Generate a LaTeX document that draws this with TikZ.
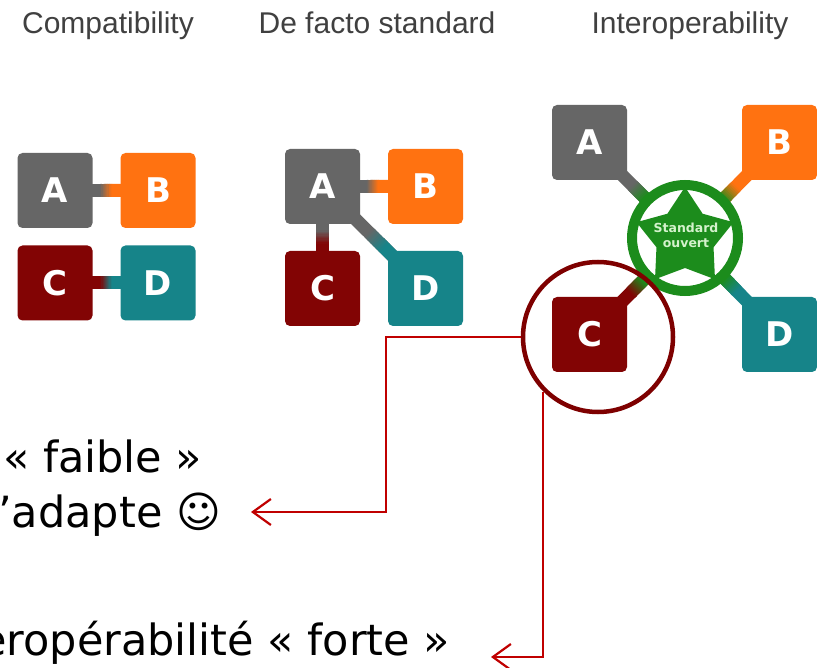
\documentclass[tikz,border=0pt]{standalone}
\usepackage{fontspec}
\setmainfont{DejaVu Sans}
\newfontfamily\titlefont{Liberation Sans}
\newfontfamily\boxfont{DejaVu Sans}
\usetikzlibrary{calc,arrows.meta,shapes.geometric}
\definecolor{cgray}{HTML}{666666}
\definecolor{corange}{HTML}{FF7211}
\definecolor{cdred}{HTML}{820404}
\definecolor{cteal}{HTML}{168489}
\definecolor{cgreen}{HTML}{1C8C1C}
\definecolor{cltgreen}{HTML}{D4F2CC}
\definecolor{titlegray}{HTML}{404040}
\definecolor{arrowred}{HTML}{C00000}
\definecolor{bigred}{HTML}{7E0000}
\pgfdeclarelayer{bg}
\pgfsetlayers{bg,main}
% gradient connector: #1 from node, #2 to node, #3 colour 1, #4 colour 2, #5 t start, #6 t end
\newcommand\gconn[6]{%
  \draw[conn,draw=#3] (#1.center) -- (#2.center);
  \foreach \gi in {0,...,9}{%
    \pgfmathsetmacro\gta{#5+(#6-#5)*\gi/10}%
    \pgfmathsetmacro\gtb{#5+(#6-#5)*(\gi+1.4)/10}%
    \pgfmathtruncatemacro\gpc{100-(\gi+0.5)*10}%
    \draw[conn,draw=#3!\gpc!#4] ($(#1.center)!\gta!(#2.center)$) -- ($(#1.center)!\gtb!(#2.center)$);
  }%
  \draw[conn,draw=#4] ($(#1.center)!#6!(#2.center)$) -- (#2.center);
}
\begin{document}
\begin{tikzpicture}[x=1pt,y=-1pt,
  box/.style={rounded corners=5pt, minimum size=75pt, inner sep=0pt, text=white,
    font=\boxfont\fontsize{34}{34}\bfseries},
  conn/.style={line width=13pt, line cap=butt},
  ttl/.style={anchor=base, text=titlegray, inner sep=0pt,
    font=\titlefont\fontsize{30}{30}\selectfont},
  txt/.style={anchor=base west, inner sep=0pt, text=black,
    font=\fontsize{43}{43}\selectfont},
  redline/.style={draw=arrowred, line width=2.2pt, -{Straight Barb[length=18pt,width=26pt]}},
]
\useasboundingbox (0,0) rectangle (817,668);
\begin{pgfonlayer}{bg}
  \fill[white] (0,0) rectangle (817,668);
\end{pgfonlayer}
\clip (0,0) rectangle (817,668);

% titles
\node[ttl] (t1) at (108,34) {Compatibility};
\node[ttl] (t2) at (377,34) {De facto standard};
\node[ttl] (t3) at (690,34) {Interoperability};

% Compatibility
\node[box, fill=cgray]   (A1) at (55,190.5) {A};
\node[box, fill=corange] (B1) at (158,190.5) {B};
\node[box, fill=cdred]   (C1) at (55,283) {C};
\node[box, fill=cteal]   (D1) at (158,283) {D};

% De facto standard
\node[box, fill=cgray]   (A2) at (322.5,186.5) {A};
\node[box, fill=corange] (B2) at (425.5,186.5) {B};
\node[box, fill=cdred]   (C2) at (322.5,288.5) {C};
\node[box, fill=cteal]   (D2) at (425.5,288.5) {D};

% Interoperability
\node[box, fill=cgray]   (A3) at (589.5,142.5) {A};
\node[box, fill=corange] (B3) at (779.5,142.5) {B};
\node[box, fill=cdred]   (C3) at (589.5,334.5) {C};
\node[box, fill=cteal]   (D3) at (779.5,334.5) {D};
\node[circle, draw=cgreen, line width=10pt, fill=white, minimum size=106pt, inner sep=0pt] (S) at (685,238) {};
\fill[cgreen] ($(S.center)+(270:51)$) -- ($(S.center)+(306:30)$)
  -- ($(S.center)+(342:51)$) -- ($(S.center)+(18:30)$)
  -- ($(S.center)+(54:51)$) -- ($(S.center)+(90:30)$)
  -- ($(S.center)+(126:51)$) -- ($(S.center)+(162:30)$)
  -- ($(S.center)+(198:51)$) -- ($(S.center)+(234:30)$) -- cycle;
\node[font=\boxfont\fontsize{12.5}{15}\bfseries, text=cltgreen, align=center, inner sep=0pt] (Stxt) at (686,235) {Standard\\ouvert};

\begin{pgfonlayer}{bg}
  \gconn{A1}{B1}{cgray}{corange}{0.44}{0.55}
  \gconn{C1}{D1}{cdred}{cteal}{0.44}{0.55}
  \gconn{A2}{B2}{cgray}{corange}{0.43}{0.54}
  \gconn{A2}{C2}{cgray}{cdred}{0.43}{0.56}
  \gconn{A2}{D2}{cgray}{cteal}{0.45}{0.6}
  \gconn{A3}{S}{cgray}{cgreen}{0.45}{0.58}
  \gconn{B3}{S}{corange}{cgreen}{0.46}{0.6}
  \gconn{C3}{S}{cdred}{cgreen}{0.43}{0.56}
  \gconn{D3}{S}{cteal}{cgreen}{0.45}{0.58}
\end{pgfonlayer}

% highlight circle
\node[circle, draw=bigred, line width=4.5pt, minimum size=150pt, inner sep=0pt] (bigc) at (598,337) {};

% texts
\node[txt] (l1) at (3,472) {« faible »};
\node[txt] (l2) at (-2,527) {’adapte ☺};
\node[txt] (l3) at (-20,655) {eropérabilité « forte »};

% arrows
\coordinate (k1) at (386,512);
\coordinate (e1) at (251,512);
\coordinate (e2) at (491,657);
\draw[redline] (bigc.west) -| (k1) -- (e1);
\draw[redline] (bigc.225) |- (e2);
\end{tikzpicture}
\end{document}
